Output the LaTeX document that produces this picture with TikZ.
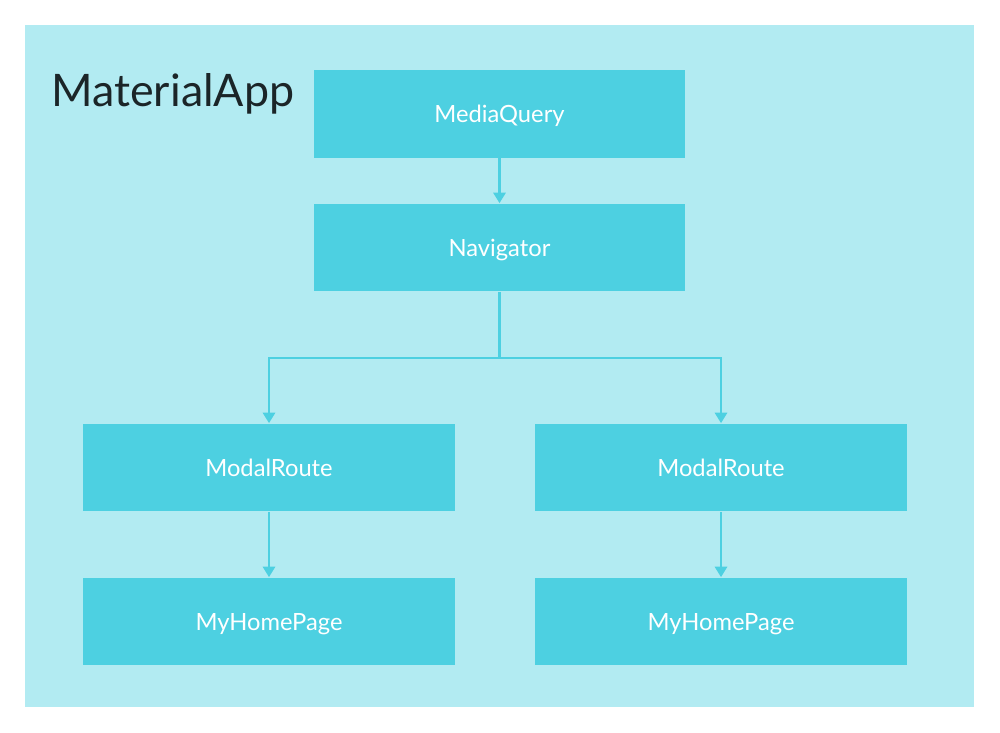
\documentclass[tikz,border=0pt]{standalone}
\usepackage{fontspec}
\setmainfont{Lato}
\usetikzlibrary{arrows.meta}
\definecolor{appbg}{HTML}{B2EBF2}
\definecolor{widget}{HTML}{4DD0E1}
\definecolor{apptext}{HTML}{1B2528}
\tikzset{
  widgetbox/.style={fill=widget, draw=none, minimum width=7.44cm, minimum height=1.76cm,
    inner sep=0pt, text depth=0pt, text=white, font=\fontsize{13.5}{16}\selectfont},
  link/.style={draw=widget, line width=1.3pt, -{Triangle[width=7pt,length=6pt]}}
}
\begin{document}
\begin{tikzpicture}[x=0.02cm, y=-0.02cm]
\useasboundingbox (0,0) rectangle (1000,733);
\fill[appbg] (25,25) rectangle (974,707);
\node[anchor=west, inner sep=0pt, text=apptext, font=\fontsize{25.5}{30}\selectfont] (app) at (51,94) {MaterialApp};

\node[widgetbox] (query) at (499.5,114) {MediaQuery};
\node[widgetbox] (nav) at (499.5,247.5) {Navigator};
\node[widgetbox] (routel) at (269,467.5) {ModalRoute};
\node[widgetbox] (router) at (721,467.5) {ModalRoute};
\node[widgetbox] (homel) at (269,621.5) {MyHomePage};
\node[widgetbox] (homer) at (721,621.5) {MyHomePage};

\coordinate (split) at (499.5,358);
\draw[link] (query) -- (nav);
\draw[link, -] (nav) -- (split);
\draw[link] (split) -| (routel);
\draw[link] (split) -| (router);
\draw[link] (routel) -- (homel);
\draw[link] (router) -- (homer);
\end{tikzpicture}
\end{document}
